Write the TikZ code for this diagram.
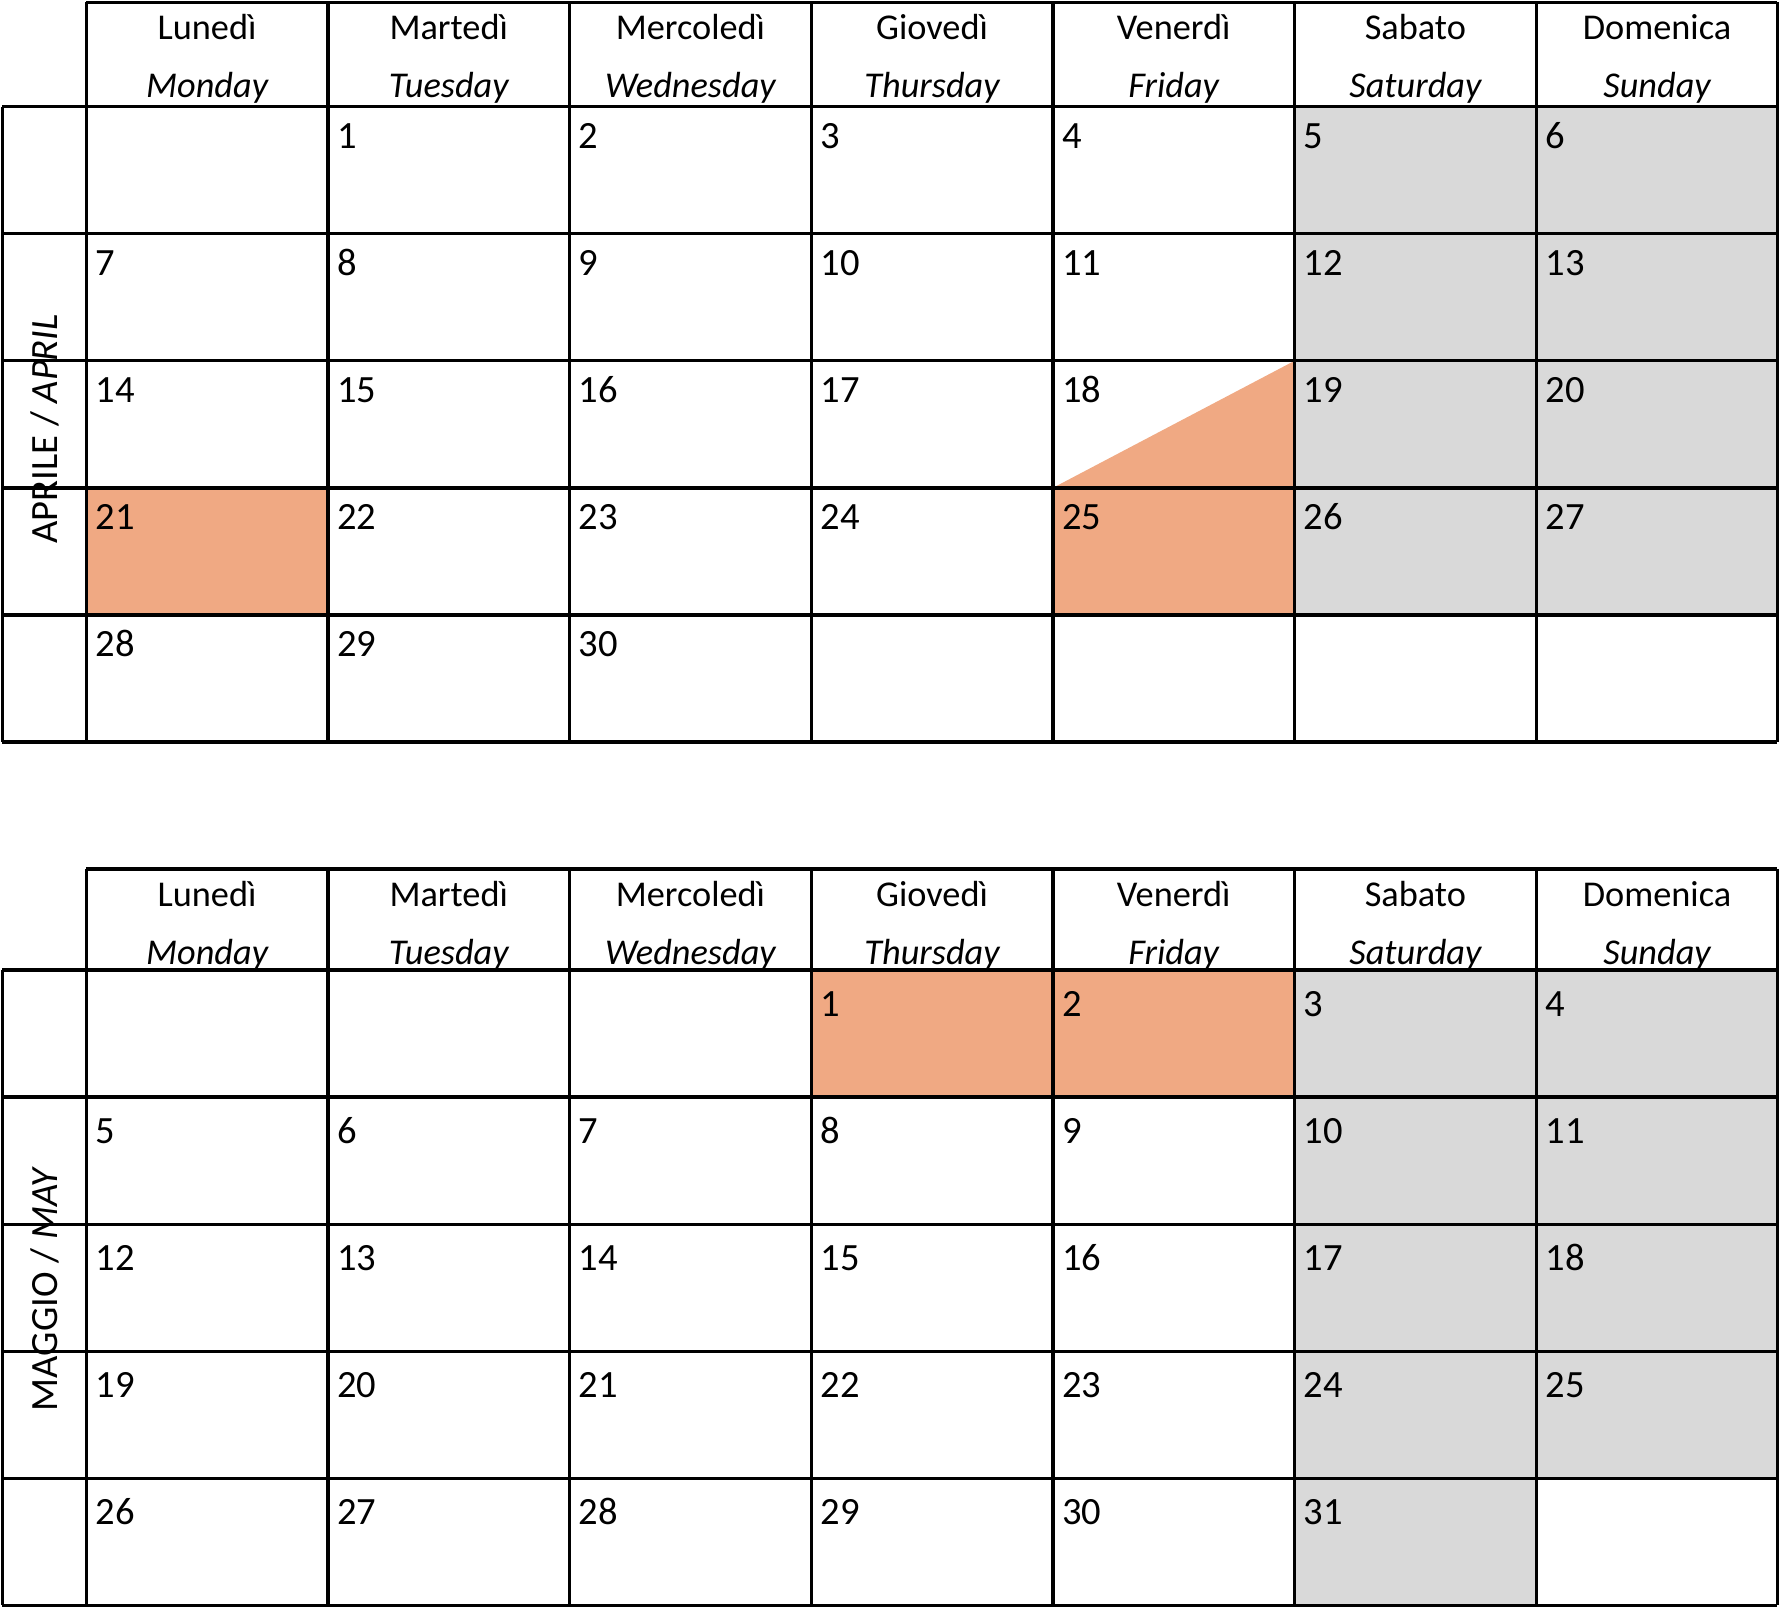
\documentclass[tikz,border=0pt]{standalone}
\usepackage{fontspec}
\setmainfont{Carlito}
\definecolor{hol}{HTML}{F0A983}
\definecolor{wkend}{HTML}{D9D9D9}
\begin{document}
\begin{tikzpicture}[x=1pt,y=-1pt,
  gridline/.style={line width=3pt},
  num/.style={anchor=base west,font=\fontsize{34}{34}\selectfont,inner sep=0pt},
  head/.style={anchor=base,font=\fontsize{32}{32}\selectfont,inner sep=0pt},
  mlabel/.style={rotate=90,font=\fontsize{34}{34}\selectfont,inner sep=0pt}]
\useasboundingbox (0,0) rectangle (1568,1416);
% ---------- fills ----------
\fill[wkend] (1141,94) rectangle (1566,542);
\fill[hol] (76,430) rectangle (289,542);
\fill[hol] (928,430) rectangle (1141,542);
\fill[hol] (928,430) -- (1141,318) -- (1141,430) -- cycle;
\fill[wkend] (1141,855) rectangle (1566,1303);
\fill[wkend] (1141,1303) rectangle (1354,1414);
\fill[hol] (715,855) rectangle (1141,967);
% ---------- grids ----------
\foreach \top/\hb in {2/94, 766/855}{
  \pgfmathsetmacro{\bot}{\hb+5*112}
  \draw[gridline] (76,\top) -- (1566,\top);
  \draw[gridline] (2,\hb) -- (1566,\hb);
  \foreach \r in {1,...,5}{\draw[gridline] (2,\hb+\r*112) -- (1566,\hb+\r*112);}
  \foreach \cc in {0,...,7}{\draw[gridline] (76+213*\cc,\top) -- (76+213*\cc,\bot);}
  \draw[gridline] (2,\hb) -- (2,\bot);
  \foreach \it/\en [count=\cc from 0] in {Lunedì/Monday,Martedì/Tuesday,Mercoledì/Wednesday,Giovedì/Thursday,Venerdì/Friday,Sabato/Saturday,Domenica/Sunday}{
    \node[head] (h\top\cc a) at (182.5+213*\cc,\top+33) {\it};
    \node[head] (h\top\cc b) at (182.5+213*\cc,\top+84) {\itshape\en};
  }
}
% ---------- April numbers ----------
\foreach \d in {1,...,30}{
  \pgfmathtruncatemacro{\cc}{mod(\d,7)}
  \pgfmathtruncatemacro{\r}{int(\d/7)}
  \node[num] (a\d) at (84+213*\cc,94+\r*112+37) {\d};
}
% ---------- May numbers ----------
\foreach \d in {1,...,31}{
  \pgfmathtruncatemacro{\cc}{mod(\d+2,7)}
  \pgfmathtruncatemacro{\r}{int((\d+2)/7)}
  \node[num] (m\d) at (84+213*\cc,855+\r*112+41) {\d};
}
% ---------- month labels ----------
\node[mlabel] (aprlab) at (40,378) {APRILE / \itshape APRIL};
\node[mlabel] (maylab) at (40,1137) {MAGGIO / \itshape MAY};
\end{tikzpicture}
\end{document}
